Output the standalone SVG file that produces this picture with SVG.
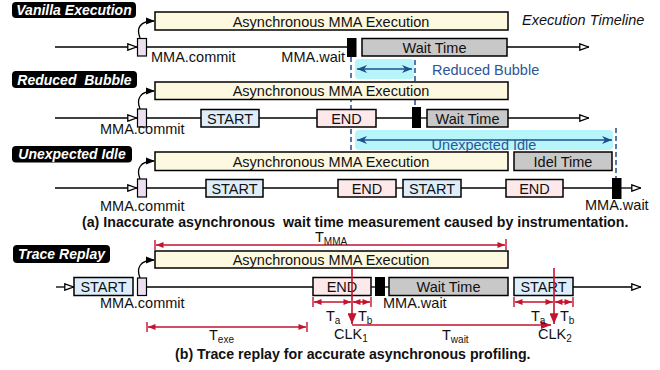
<svg xmlns="http://www.w3.org/2000/svg" width="660" height="370" viewBox="0 0 660 370">
<defs>
<style>
text{font-family:"Liberation Sans",Arial,sans-serif;font-size:14.5px;fill:#111}
.lbl{fill:#000}
.lt{fill:#fff;font-weight:bold;font-style:italic;text-anchor:middle;font-size:14px}
.async{fill:#fdf8e0;stroke:#000;stroke-width:1.5}
.commit{fill:#ecdff0;stroke:#000;stroke-width:1.2}
.start{fill:#ddeefa;stroke:#000;stroke-width:1.5}
.end{fill:#fde8ea;stroke:#000;stroke-width:1.5}
.wait{fill:#c8c8c8;stroke:#000;stroke-width:1.5}
.blk{fill:#000}
.c{text-anchor:middle}
.tl{stroke:#000;stroke-width:1.3;fill:none}
.red{stroke:#c4122f;stroke-width:1.6;fill:none}
.tick{stroke:#c4122f;stroke-width:1.4}
.dash{stroke:#1f4e8c;stroke-width:1.5;stroke-dasharray:5,3}
.hl{fill:#b6f5fa}
.barrow{stroke:#1f4e8c;stroke-width:1.6;fill:none}
.btxt{fill:#2e5597}
.cap{font-weight:bold;font-size:14.2px}
.sub{font-size:10px}
</style>
<marker id="hollow" viewBox="0 0 10 8" refX="10" refY="4" markerWidth="10" markerHeight="8" markerUnits="userSpaceOnUse" orient="auto">
<path d="M0.8,0.8 L9.5,4 L0.8,7.2 z" fill="#fff" stroke="#000" stroke-width="1.3"/>
</marker>
<marker id="blk" viewBox="0 0 10 8" refX="9" refY="4" markerWidth="9" markerHeight="8" markerUnits="userSpaceOnUse" orient="auto">
<path d="M0,0 L10,4 L0,8 z" fill="#000"/>
</marker>
<marker id="rarr" viewBox="0 0 10 8" refX="10" refY="4" markerWidth="8" markerHeight="6" markerUnits="userSpaceOnUse" orient="auto-start-reverse">
<path d="M0,0 L10,4 L0,8 z" fill="#c4122f"/>
</marker>
<marker id="rdown" viewBox="0 0 10 12" refX="5" refY="12" markerWidth="9" markerHeight="12" markerUnits="userSpaceOnUse" orient="0">
<path d="M0,0 L10,0 L5,12 z" fill="#c4122f"/>
</marker>
<marker id="rbig" viewBox="0 0 10 8" refX="10" refY="4" markerWidth="10" markerHeight="8" markerUnits="userSpaceOnUse" orient="auto">
<path d="M0,0 L10,4 L0,8 z" fill="#c4122f"/>
</marker>
<marker id="barr" viewBox="0 0 10 8" refX="10" refY="4" markerWidth="10" markerHeight="8" markerUnits="userSpaceOnUse" orient="auto-start-reverse">
<path d="M0,0 L10,4 L0,8 L3,4 z" fill="#1f4e8c"/>
</marker>
</defs>
<rect width="660" height="370" fill="#fff"/>

<!-- blue annotations (behind nodes) -->
<g id="bubble-annotations">
<rect class="hl" x="355" y="59" width="59" height="20" rx="4"/>
<rect class="hl" x="355" y="130" width="258" height="20" rx="4"/>
<line class="dash" x1="351" y1="57" x2="351" y2="152"/>
<line class="dash" x1="415" y1="60" x2="415" y2="107"/>
<line class="dash" x1="616" y1="128" x2="616" y2="178"/>
<line class="barrow" x1="357" y1="69" x2="412" y2="69" marker-start="url(#barr)" marker-end="url(#barr)"/>
<line class="barrow" x1="357" y1="140" x2="612" y2="140" marker-start="url(#barr)" marker-end="url(#barr)"/>
<text class="btxt" x="432" y="75">Reduced Bubble</text>
<text class="btxt c" x="484" y="150">Unexpected Idle</text>
</g>

<!-- connectors: timelines and commit arrows -->
<g id="connectors">
<line class="tl" x1="55" y1="47" x2="137" y2="47" marker-end="url(#hollow)"/>
<line class="tl" x1="146" y1="47" x2="347" y2="47"/>
<line class="tl" x1="507" y1="47" x2="589" y2="47" marker-end="url(#hollow)"/>
<path class="tl" d="M140,38 C136,28 140,21 154,21" marker-end="url(#blk)"/>

<line class="tl" x1="55" y1="118" x2="137" y2="118" marker-end="url(#hollow)"/>
<line class="tl" x1="146" y1="118" x2="201" y2="118"/>
<line class="tl" x1="259" y1="118" x2="317" y2="118"/>
<line class="tl" x1="376" y1="118" x2="412" y2="118"/>
<line class="tl" x1="421" y1="118" x2="427" y2="118"/>
<line class="tl" x1="508" y1="118" x2="589" y2="118" marker-end="url(#hollow)"/>
<path class="tl" d="M140,109 C136,99 140,91 154,91" marker-end="url(#blk)"/>

<line class="tl" x1="55" y1="188" x2="137" y2="188" marker-end="url(#hollow)"/>
<line class="tl" x1="146" y1="188" x2="206" y2="188"/>
<line class="tl" x1="263" y1="188" x2="338" y2="188"/>
<line class="tl" x1="396" y1="188" x2="403" y2="188"/>
<line class="tl" x1="461" y1="188" x2="506" y2="188"/>
<line class="tl" x1="563" y1="188" x2="612" y2="188"/>
<line class="tl" x1="621" y1="188" x2="641" y2="188" marker-end="url(#hollow)"/>
<path class="tl" d="M140,179 C136,169 140,161 154,161" marker-end="url(#blk)"/>

<line class="tl" x1="56" y1="287" x2="74" y2="287" marker-end="url(#hollow)"/>
<line class="tl" x1="146" y1="287" x2="313" y2="287"/>
<line class="tl" x1="371" y1="287" x2="375" y2="287"/>
<line class="tl" x1="385" y1="287" x2="389" y2="287"/>
<line class="tl" x1="573" y1="287" x2="641" y2="287" marker-end="url(#hollow)"/>
<path class="tl" d="M140,278 C136,268 140,260 154,260" marker-end="url(#blk)"/>
</g>

<!-- Row 1: Vanilla Execution -->
<g id="label-vanilla"><rect class="lbl" x="12" y="2" width="124" height="16" rx="4"/><text class="lt" x="74" y="15">Vanilla Execution</text></g>
<g id="async-1"><rect class="async" x="155" y="12" width="353" height="18"/><text class="c" x="331" y="26.5">Asynchronous MMA Execution</text></g>
<text x="522" y="25" font-style="italic" font-size="14">Execution Timeline</text>
<g id="commit-1"><rect class="commit" x="137.5" y="38.5" width="9" height="17.5"/><text x="151" y="62">MMA.commit</text></g>
<g id="wait-1"><rect class="blk" x="347" y="38" width="9.5" height="19"/><text x="345" y="62" text-anchor="end">MMA.wait</text></g>
<g id="waittime-1"><rect class="wait" x="362" y="38.5" width="145" height="17.5"/><text class="c" x="434.5" y="52.5">Wait Time</text></g>

<!-- Row 2: Reduced Bubble -->
<g id="label-reduced"><rect class="lbl" x="12" y="71" width="125" height="17" rx="4"/><text class="lt" x="74.5" y="84.5" xml:space="preserve">Reduced  Bubble</text></g>
<g id="async-2"><rect class="async" x="155" y="82" width="353" height="17.5"/><text class="c" x="331" y="96">Asynchronous MMA Execution</text></g>
<g id="commit-2"><rect class="commit" x="137.5" y="109" width="9" height="18"/><text x="100" y="134">MMA.commit</text></g>
<g id="start-2"><rect class="start" x="201" y="109.5" width="58" height="17.5"/><text class="c" x="230" y="123.5">START</text></g>
<g id="end-2"><rect class="end" x="317" y="109.5" width="59" height="17.5"/><text class="c" x="346.5" y="123.5">END</text></g>
<g id="wait-2"><rect class="blk" x="412" y="107" width="9" height="21"/></g>
<g id="waittime-2"><rect class="wait" x="427" y="109.5" width="81" height="17.5"/><text class="c" x="467.5" y="123.5">Wait Time</text></g>

<!-- Row 3: Unexpected Idle -->
<g id="label-idle"><rect class="lbl" x="12" y="146" width="120" height="16.5" rx="4"/><text class="lt" x="72" y="159">Unexpected Idle</text></g>
<g id="async-3"><rect class="async" x="155" y="152" width="353" height="18.5"/><text class="c" x="331" y="166.5">Asynchronous MMA Execution</text></g>
<g id="idle-3"><rect class="wait" x="514" y="152" width="98" height="18.5"/><text class="c" x="563" y="166.5">Idel Time</text></g>
<g id="commit-3"><rect class="commit" x="137.5" y="179" width="9" height="18"/><text x="100" y="211">MMA.commit</text></g>
<g id="start-3a"><rect class="start" x="206" y="179.5" width="57" height="17.5"/><text class="c" x="234.5" y="193.5">START</text></g>
<g id="end-3a"><rect class="end" x="338" y="179.5" width="58" height="17.5"/><text class="c" x="367" y="193.5">END</text></g>
<g id="start-3b"><rect class="start" x="403" y="179.5" width="58" height="17.5"/><text class="c" x="432" y="193.5">START</text></g>
<g id="end-3b"><rect class="end" x="506" y="179.5" width="57" height="17.5"/><text class="c" x="534.5" y="193.5">END</text></g>
<g id="wait-3"><rect class="blk" x="612" y="178" width="9.5" height="21"/><text x="585" y="210">MMA.wait</text></g>

<text class="cap" x="82" y="226.5" xml:space="preserve">(a) Inaccurate asynchronous  wait time measurement caused by instrumentation.</text>

<!-- Row 4: Trace Replay -->
<g id="label-trace"><rect class="lbl" x="13" y="245" width="97" height="18" rx="4"/><text class="lt" x="61.5" y="259">Trace Replay</text></g>
<g id="async-4"><rect class="async" x="155" y="251" width="353" height="17"/><text class="c" x="331" y="264.5">Asynchronous MMA Execution</text></g>
<g id="start-4a"><rect class="start" x="74" y="277.5" width="59" height="18"/><text class="c" x="103.5" y="291.5">START</text></g>
<g id="commit-4"><rect class="commit" x="137.5" y="278" width="9" height="17.5"/><text x="100" y="308">MMA.commit</text></g>
<g id="end-4"><rect class="end" x="313" y="277.5" width="58" height="18"/><text class="c" x="342" y="291.5">END</text></g>
<g id="wait-4"><rect class="blk" x="375" y="277" width="10" height="19"/><text x="383" y="308">MMA.wait</text></g>
<g id="waittime-4"><rect class="wait" x="389" y="277.5" width="119" height="18"/><text class="c" x="448.5" y="291.5">Wait Time</text></g>
<g id="start-4b"><rect class="start" x="514" y="277.5" width="59" height="18"/><text class="c" x="543.5" y="291.5">START</text></g>

<!-- red timing annotations -->
<g id="timing-annotations">
<line class="red" x1="156" y1="245" x2="505" y2="245" marker-start="url(#rarr)" marker-end="url(#rarr)"/>
<line class="tick" x1="155" y1="240" x2="155" y2="250"/>
<line class="tick" x1="506" y1="239" x2="506" y2="250"/>
<text x="315" y="242" font-size="13">T<tspan class="sub" font-size="9" dy="2.5">MMA</tspan></text>

<line class="red" x1="352" y1="268" x2="352" y2="324" marker-end="url(#rdown)"/>
<line class="red" x1="554" y1="268" x2="554" y2="324" marker-end="url(#rdown)"/>

<line class="red" x1="314" y1="302" x2="351" y2="302" marker-start="url(#rarr)" marker-end="url(#rarr)"/>
<line class="red" x1="353" y1="302" x2="370" y2="302" marker-start="url(#rarr)" marker-end="url(#rarr)"/>
<line class="red" x1="515" y1="302" x2="553" y2="302" marker-start="url(#rarr)" marker-end="url(#rarr)"/>
<line class="red" x1="555" y1="302" x2="572" y2="302" marker-start="url(#rarr)" marker-end="url(#rarr)"/>
<line class="tick" x1="313" y1="297" x2="313" y2="307"/>
<line class="tick" x1="371" y1="297" x2="371" y2="307"/>
<line class="tick" x1="514" y1="297" x2="514" y2="307"/>
<line class="tick" x1="573" y1="297" x2="573" y2="307"/>

<line class="red" x1="148" y1="327" x2="306" y2="327" marker-start="url(#rarr)" marker-end="url(#rarr)"/>
<line class="tick" x1="147" y1="322" x2="147" y2="332"/>
<line class="tick" x1="307" y1="322" x2="307" y2="332"/>

<line class="red" x1="352" y1="325" x2="551" y2="325" marker-end="url(#rbig)"/>

<text x="326" y="321">T<tspan class="sub" dy="3">a</tspan></text>
<text x="358" y="321">T<tspan class="sub" dy="3">b</tspan></text>
<text x="334" y="339">CLK<tspan class="sub" dy="3">1</tspan></text>
<text x="531" y="321">T<tspan class="sub" dy="3">a</tspan></text>
<text x="560" y="321">T<tspan class="sub" dy="3">b</tspan></text>
<text x="538" y="339">CLK<tspan class="sub" dy="3">2</tspan></text>
<text x="209" y="340">T<tspan class="sub" dy="3">exe</tspan></text>
<text x="442" y="340">T<tspan class="sub" dy="3">wait</tspan></text>
</g>

<text class="cap" x="175" y="359">(b) Trace replay for accurate asynchronous profiling.</text>
</svg>
